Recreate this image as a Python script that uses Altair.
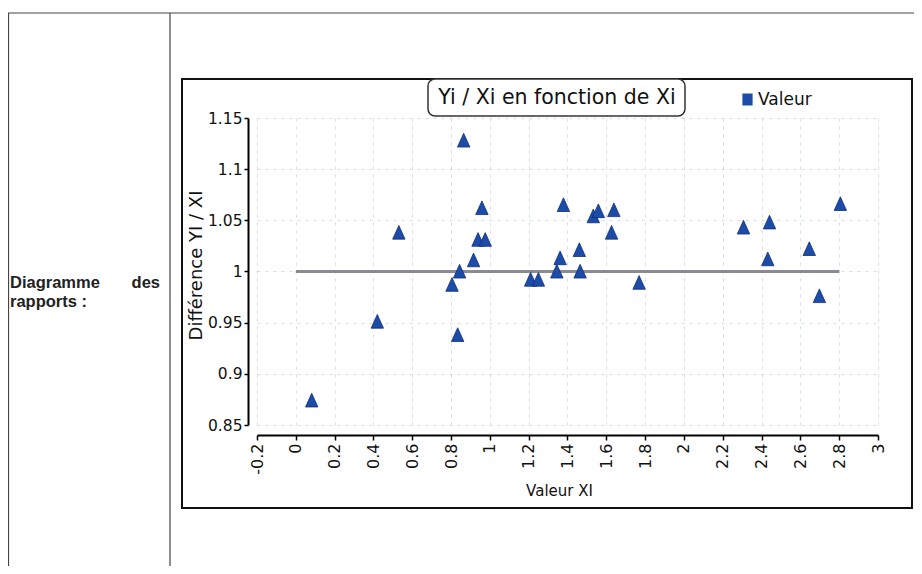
import altair as alt
import pandas as pd

# ---- data ----
xi = [0.082, 0.42, 0.531, 0.805, 0.834, 0.844, 0.865, 0.916, 0.939, 0.976,
      0.959, 1.21, 1.25, 1.345, 1.362, 1.379, 1.461, 1.465, 1.533, 1.559,
      1.627, 1.639, 1.769, 2.307, 2.432, 2.441, 2.646, 2.698, 2.806]
ratio = [0.874, 0.951, 1.038, 0.987, 0.938, 1.000, 1.128, 1.011, 1.031, 1.031,
         1.062, 0.992, 0.992, 1.000, 1.013, 1.065, 1.021, 1.000, 1.054, 1.059,
         1.038, 1.060, 0.989, 1.043, 1.012, 1.048, 1.022, 0.976, 1.066]
ref_x = [0, 2.8]
ref_y = [1, 1]
x_ticks = [-0.2, 0, 0.2, 0.4, 0.6, 0.8, 1, 1.2, 1.4, 1.6, 1.8, 2, 2.2, 2.4, 2.6, 2.8, 3]
y_ticks = [0.85, 0.9, 0.95, 1, 1.05, 1.1, 1.15]
series_name = ["Valeur"]
chart_title = "Yi / Xi en fonction de Xi"
x_title = "Valeur XI"
y_title = "Différence YI / XI"
row_label_1 = "Diagramme"
row_label_1b = "des"
row_label_2 = "rapports :"

BLUE = "#1d4ca8"
FONT = "DejaVu Sans"
W, H = 621, 307

pts = pd.DataFrame({"xi": xi, "ratio": ratio, "serie": series_name * len(xi)})
refdf = pd.DataFrame({"x": ref_x, "y": ref_y})
one = alt.Data(values=[{"k": 1}])

xscale = alt.Scale(domain=[-0.2, 3], nice=False, zero=False)
yscale = alt.Scale(domain=[0.85, 1.15], nice=False, zero=False)

xaxis = alt.Axis(values=x_ticks, labelExpr="'' + datum.value", labelAngle=270,
                 title=x_title, offset=10, tickSize=5, labelPadding=3,
                 labelFontSize=16, titleFontSize=15,
                 titlePadding=9, titleX=302, titleAlign="center", grid=True)
yaxis = alt.Axis(values=y_ticks, labelExpr="'' + datum.value", title=y_title,
                 offset=9, tickSize=4, labelPadding=2, titlePadding=2,
                 labelFontSize=15.5, titleFontSize=18,
                 titleY=147, grid=True)

# decorations (table and chart frame)
def vrule(x, y1, y2, color="#444", w=1.2):
    return alt.Chart(one).mark_rule(color=color, strokeWidth=w).encode(
        x=alt.value(x), y=alt.value(y1), y2=alt.value(y2))

def hrule(y, x1, x2, color="#444", w=1.2):
    return alt.Chart(one).mark_rule(color=color, strokeWidth=w).encode(
        y=alt.value(y), x=alt.value(x1), x2=alt.value(x2))

table = [
    hrule(-105, -249, 657),
    vrule(-248.5, -105, 448),
    vrule(-87, -105, 448),
]

frame = alt.Chart(one).mark_rect(fill="transparent", stroke="#111", strokeWidth=2).encode(
    x=alt.value(-75), x2=alt.value(655), y=alt.value(-39), y2=alt.value(390))

title_box = alt.Chart(one).mark_rect(fill="white", stroke="#333", strokeWidth=1.5,
                                     cornerRadius=7).encode(
    x=alt.value(171), x2=alt.value(428), y=alt.value(-39), y2=alt.value(-2))

title_txt = alt.Chart(one).mark_text(text=chart_title, font=FONT, fontSize=20.5,
                                     align="center", baseline="middle", color="#111").encode(
    x=alt.value(300), y=alt.value(-20))

lab1 = alt.Chart(one).mark_text(text=row_label_1, font="Liberation Sans", fontSize=16.5,
                                fontWeight="bold", align="left", baseline="middle",
                                color="#222").encode(x=alt.value(-247), y=alt.value(165))
lab1b = alt.Chart(one).mark_text(text=row_label_1b, font="Liberation Sans", fontSize=16.5,
                                 fontWeight="bold", align="right", baseline="middle",
                                 color="#222").encode(x=alt.value(-97), y=alt.value(165))
lab2 = alt.Chart(one).mark_text(text=row_label_2, font="Liberation Sans", fontSize=16.5,
                                fontWeight="bold", align="left", baseline="middle",
                                color="#222").encode(x=alt.value(-247), y=alt.value(184))

ref = alt.Chart(refdf).mark_line(color="#8a8a92", strokeWidth=3).encode(
    x=alt.X("x:Q", scale=xscale, axis=xaxis),
    y=alt.Y("y:Q", scale=yscale, axis=yaxis))

points = alt.Chart(pts).mark_point(
    shape="M0,-1.1L0.95,1L-0.95,1Z", filled=True, size=170, opacity=1,
    stroke="#0f2f78", strokeWidth=0.8).encode(
    x=alt.X("xi:Q", scale=xscale, axis=xaxis),
    y=alt.Y("ratio:Q", scale=yscale, axis=yaxis),
    color=alt.Color("serie:N", scale=alt.Scale(domain=series_name, range=[BLUE]),
                    legend=alt.Legend(title=None, orient="none", legendX=482, legendY=-27,
                                      symbolType="M-0.85,-1L0.85,-1L0.85,1L-0.85,1Z",
                                      symbolSize=144,
                                      symbolStrokeWidth=0, labelFont=FONT,
                                      labelFontSize=17, labelColor="#111",
                                      padding=0, labelOffset=2)))

chart = alt.layer(ref, points, *table, frame, title_box, title_txt, lab1, lab1b, lab2).properties(
    width=W, height=H,
    autosize=alt.AutoSizeParams(type="none"),
    padding={"left": 249, "top": 110, "right": 36, "bottom": 141},
    background="white",
).configure_view(strokeWidth=0).configure_axis(
    domainColor="#000", domainWidth=2, tickColor="#000", tickWidth=1.5,
    labelFont=FONT, labelColor="#111",
    titleFont=FONT, titleFontWeight="normal", titleColor="#111",
    gridColor="#b4c0d8", gridDash=[3, 5], gridWidth=1, gridOpacity=0.55,
)

chart.save("out.html", embed_options={"renderer": "svg", "actions": False})
